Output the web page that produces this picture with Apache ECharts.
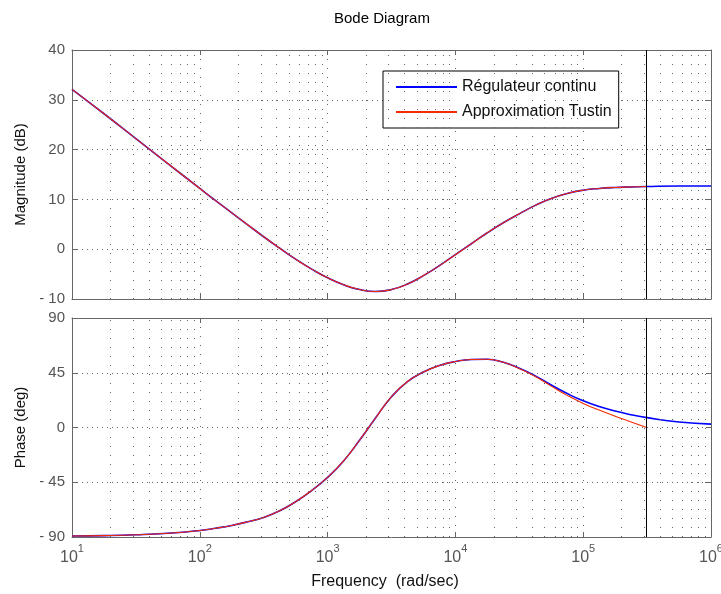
<!DOCTYPE html>
<html>
<head>
<meta charset="utf-8">
<script src="https://cdn.jsdelivr.net/npm/echarts@6/dist/echarts.min.js"></script>
<style>
  html, body { margin: 0; padding: 0; background: #fff; }
  #chart { width: 721px; height: 594px; }
</style>
</head>
<body>
<div id="chart"></div>
<script>
const freqs = [10, 17.8, 31.6, 56.2, 100, 133, 178, 237, 316, 422, 562, 750, 1000, 1334, 1778, 2371,
  3162, 4217, 5623, 7499, 10000, 13335, 17783, 23714, 31623, 42170, 56234, 74989,
  100000, 133352, 177828, 237137, 316228, 562341, 1000000];
// régulateur continu
const magContinu = [32.1, 27.2, 22.2, 17.2, 12.2, 9.75, 7.3, 4.9, 2.5, 0.2, -2.0, -4.0, -5.75, -7.15, -8.1, -8.5,
  -8.1, -7.0, -5.3, -3.3, -1.1, 1.1, 3.3, 5.3, 7.1, 8.8, 10.2, 11.2,
  11.85, 12.2, 12.4, 12.5, 12.6, 12.7, 12.7];
const phaseContinu = [-89.2, -88.9, -88.2, -86.9, -84.6, -82.8, -80.5, -77.5, -73.9, -68.5, -61.0, -51.8, -41.0, -27.5, -10.5, 7.8,
  25.3, 37.8, 45.6, 50.9, 54.2, 55.9, 56.1, 53.6, 48.7, 42.4, 34.9, 27.9,
  21.9, 17.2, 13.5, 10.5, 8.1, 4.5, 2.8];
// approximation Tustin, tracée jusqu'à la pulsation de Nyquist
const nyquist = 314000;
const freqsTustin = freqs.slice(0, 32).concat([nyquist]);
const magTustin = [32.1, 27.2, 22.2, 17.2, 12.2, 9.75, 7.3, 4.9, 2.5, 0.2, -2.0, -4.0, -5.75, -7.15, -8.1, -8.5,
  -8.1, -7.0, -5.3, -3.3, -1.1, 1.1, 3.3, 5.3, 7.1, 8.8, 10.2, 11.2,
  11.85, 12.2, 12.4, 12.5, 12.6];
const phaseTustin = [-89.2, -88.9, -88.2, -86.9, -84.6, -82.8, -80.5, -77.5, -73.9, -68.5, -61.0, -51.8, -41.0, -27.5, -10.5, 7.8,
  25.3, 37.8, 45.6, 50.9, 54.2, 55.9, 56.1, 53.6, 48.5, 41.9, 34.0, 26.4,
  19.8, 14.3, 9.3, 4.6, 0.0];
const decades = [10, 100, 1000, 10000, 100000];

const NAME_C = 'Régulateur continu';
const NAME_T = 'Approximation Tustin';
const BLUE = '#0000ff';
const RED = '#f52a00';
const AXIS = '#666';
const FONT = 'Liberation Sans';

// grille mineure 2..9 de chaque décade + ligne de Nyquist
const minorLines = [];
decades.forEach(d => {
  for (let k = 2; k <= 9; k++) minorLines.push({ xAxis: d * k });
});
const markLines = {
  silent: true,
  symbol: 'none',
  animation: false,
  label: { show: false },
  lineStyle: { color: '#666', width: 1, type: [1, 8] },
  data: minorLines.concat([{ xAxis: nyquist, lineStyle: { color: '#000', width: 1, type: 'solid' } }])
};

const pairs = (xs, ys) => xs.map((x, i) => [x, ys[i]]);
const yFmt = v => (v < 0 ? '- ' + Math.abs(v) : String(v));

const xBase = (grid, pos) => ({
  type: 'log',
  logBase: 10,
  gridIndex: grid,
  position: pos,
  min: 10,
  max: 1000000,
  axisLine: { onZero: false, lineStyle: { color: AXIS } },
  axisTick: { inside: true, length: 5, lineStyle: { color: AXIS } },
  axisLabel: { show: false },
  splitLine: { show: pos === 'bottom', lineStyle: { color: '#666', type: [1, 8] } }
});
const yBase = (grid, pos, min, max, interval) => ({
  type: 'value',
  gridIndex: grid,
  position: pos,
  min, max, interval,
  axisLine: { show: true, onZero: false, lineStyle: { color: AXIS } },
  axisTick: { show: true, inside: true, length: 5, lineStyle: { color: AXIS } },
  axisLabel: { show: pos === 'left', formatter: yFmt, color: '#555', fontSize: 15, margin: 7, fontFamily: FONT },
  splitLine: { show: pos === 'left', lineStyle: { color: '#666', type: [1, 4] } }
});

const xPhase = xBase(1, 'bottom');
xPhase.axisLabel = {
  show: true,
  margin: 6,
  formatter: v => '{b|10}{e|' + Math.round(Math.log10(v)) + '}',
  rich: {
    b: { fontSize: 16, color: '#555', lineHeight: 30, fontFamily: FONT },
    e: { fontSize: 11, color: '#555', lineHeight: 11, verticalAlign: 'top', fontFamily: FONT }
  }
};
xPhase.name = 'Frequency  (rad/sec)';
xPhase.nameLocation = 'middle';
xPhase.nameGap = 37;
xPhase.nameTextStyle = { fontSize: 16, color: '#111', fontFamily: FONT, padding: [0, 13, 0, 0] };

const yMag = yBase(0, 'left', -10, 40, 10);
yMag.name = 'Magnitude (dB)';
yMag.nameLocation = 'middle';
yMag.nameGap = 42;
yMag.nameTextStyle = { fontSize: 15, color: '#111', fontFamily: FONT };
const yPh = yBase(1, 'left', -90, 90, 45);
yPh.name = 'Phase (deg)';
yPh.nameLocation = 'middle';
yPh.nameGap = 42;
yPh.nameTextStyle = { fontSize: 15, color: '#111', fontFamily: FONT };

const lineSeries = (name, xi, yi, data, color, width, withMarks) => {
  const s = {
    name,
    type: 'line',
    xAxisIndex: xi,
    yAxisIndex: yi,
    data,
    symbol: 'none',
    smooth: 0.5,
    lineStyle: { color, width },
    itemStyle: { color }
  };
  if (withMarks) s.markLine = markLines;
  return s;
};

const chart = echarts.init(document.getElementById('chart'));
chart.setOption({
  animation: false,
  backgroundColor: '#fff',
  title: {
    text: 'Bode Diagram',
    left: 329,
    top: 6,
    textStyle: { fontSize: 15, fontWeight: 'normal', color: '#000', fontFamily: FONT }
  },
  legend: {
    data: [NAME_C, NAME_T],
    orient: 'vertical',
    left: 383,
    top: 71,
    padding: [8, 7, 8, 12],
    itemGap: 9,
    itemWidth: 61,
    itemHeight: 16,
    selectedMode: false,
    backgroundColor: '#fff',
    borderColor: '#000',
    borderWidth: 1,
    itemStyle: { opacity: 0 },
    textStyle: { fontSize: 16, color: '#111', lineHeight: 16, fontFamily: FONT }
  },
  grid: [
    { left: 72, top: 50, width: 639, height: 249, containLabel: false, outerBoundsMode: 'none' },
    { left: 72, top: 318, width: 639, height: 219, containLabel: false, outerBoundsMode: 'none' }
  ],
  xAxis: [xBase(0, 'bottom'), xPhase, xBase(0, 'top'), xBase(1, 'top')],
  yAxis: [yMag, yPh, yBase(0, 'right', -10, 40, 10), yBase(1, 'right', -90, 90, 45)],
  series: [
    lineSeries(NAME_C, 0, 0, pairs(freqs, magContinu), BLUE, 1.6, true),
    lineSeries(NAME_T, 0, 0, pairs(freqsTustin, magTustin), RED, 1.1, false),
    lineSeries(NAME_C, 1, 1, pairs(freqs, phaseContinu), BLUE, 1.6, true),
    lineSeries(NAME_T, 1, 1, pairs(freqsTustin, phaseTustin), RED, 1.1, false)
  ]
});
</script>
</body>
</html>
